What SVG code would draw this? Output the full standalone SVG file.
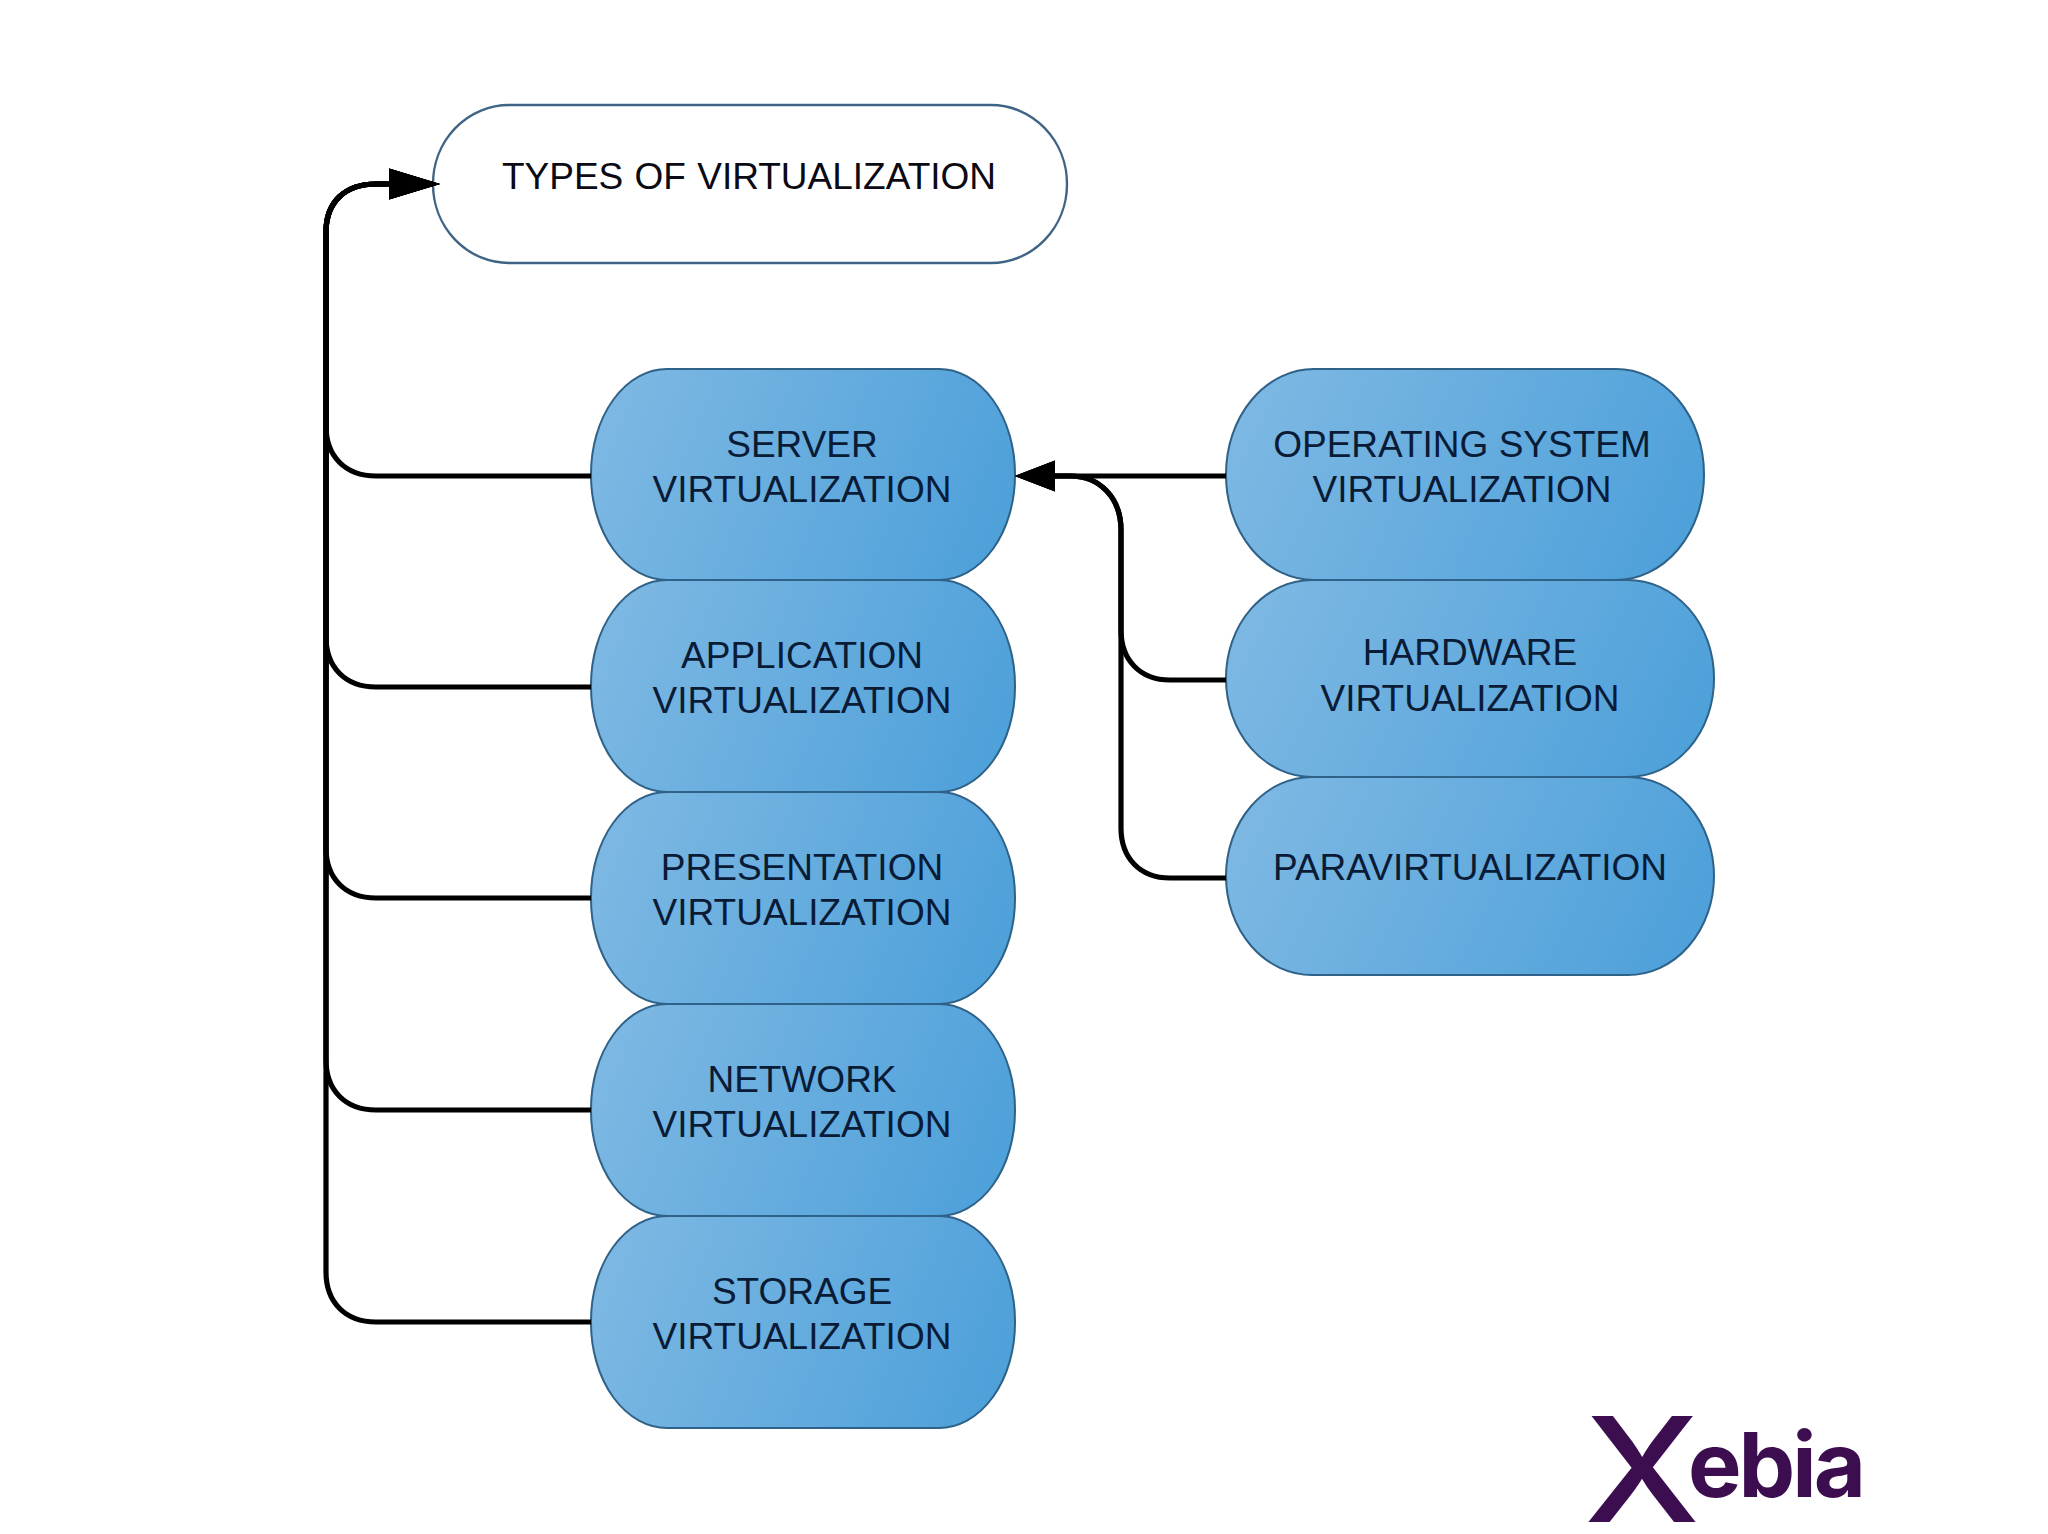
<svg xmlns="http://www.w3.org/2000/svg" width="2048" height="1534" viewBox="0 0 2048 1534">
<style>
.conn{fill:none;stroke:#000;stroke-width:5.2}
.blue{fill:url(#g);stroke:#2f6288;stroke-width:2}
.title{fill:#fff;stroke:#3f6485;stroke-width:2.4}
text{font-family:"Liberation Sans",Arial,sans-serif;font-size:37px;fill:#0a1b36;text-anchor:middle}
</style>
<defs>
<linearGradient id="g" x1="0" y1="0.35" x2="1" y2="0.55"><stop offset="0" stop-color="#7db8e3"/><stop offset="1" stop-color="#4fa1da"/></linearGradient>
<marker id="a1" markerUnits="userSpaceOnUse" markerWidth="52" markerHeight="32" refX="6" refY="16" orient="auto"><path d="M0,0.5 L51,16 L0,31.5z" fill="#000"/></marker>
<marker id="a2" markerUnits="userSpaceOnUse" markerWidth="42" markerHeight="32" refX="6" refY="16" orient="auto"><path d="M0,0.5 L40,16 L0,31.5z" fill="#000"/></marker>
</defs>
<rect width="2048" height="1534" fill="#fff"/>
<g id="types"><rect class="title" x="433" y="105" width="634" height="158" rx="76" ry="79"/><text x="749" y="189" word-spacing="1" style="fill:#0a0a14">TYPES OF VIRTUALIZATION</text></g>
<g id="server"><rect class="blue" x="591" y="369" width="424" height="211" rx="76" ry="105"/><text x="802" y="457">SERVER</text><text x="802" y="502">VIRTUALIZATION</text></g>
<g id="application"><rect class="blue" x="591" y="580" width="424" height="212" rx="76" ry="105"/><text x="802" y="668">APPLICATION</text><text x="802" y="713">VIRTUALIZATION</text></g>
<g id="presentation"><rect class="blue" x="591" y="792" width="424" height="212" rx="76" ry="105"/><text x="802" y="880">PRESENTATION</text><text x="802" y="925">VIRTUALIZATION</text></g>
<g id="network"><rect class="blue" x="591" y="1004" width="424" height="212" rx="76" ry="105"/><text x="802" y="1092">NETWORK</text><text x="802" y="1137">VIRTUALIZATION</text></g>
<g id="storage"><rect class="blue" x="591" y="1216" width="424" height="212" rx="76" ry="105"/><text x="802" y="1304">STORAGE</text><text x="802" y="1349">VIRTUALIZATION</text></g>
<g id="os"><rect class="blue" x="1226" y="369" width="478" height="211" rx="88" ry="105"/><text x="1462" y="457">OPERATING SYSTEM</text><text x="1462" y="502">VIRTUALIZATION</text></g>
<g id="hardware"><rect class="blue" x="1226" y="580" width="488" height="197" rx="86" ry="98"/><text x="1470" y="665">HARDWARE</text><text x="1470" y="711">VIRTUALIZATION</text></g>
<g id="para"><rect class="blue" x="1226" y="777" width="488" height="198" rx="86" ry="99"/><text x="1470" y="880">PARAVIRTUALIZATION</text></g>
<g id="connectors">
<path class="conn" marker-end="url(#a1)" d="M591,476H376C345,476 326,456 326,426V232C326,202 345,184 376,184H395"/>
<path class="conn" marker-end="url(#a1)" d="M591,687H376C345,687 326,667 326,637V232C326,202 345,184 376,184H395"/>
<path class="conn" marker-end="url(#a1)" d="M591,898H376C345,898 326,878 326,848V232C326,202 345,184 376,184H395"/>
<path class="conn" marker-end="url(#a1)" d="M591,1110H376C345,1110 326,1090 326,1060V232C326,202 345,184 376,184H395"/>
<path class="conn" marker-end="url(#a1)" d="M591,1322H376C345,1322 326,1302 326,1272V232C326,202 345,184 376,184H395"/>
<path class="conn" marker-end="url(#a2)" d="M1226,476H1049"/>
<path class="conn" marker-end="url(#a2)" d="M1226,680H1170C1140,680 1121,660 1121,630V530C1121,498 1100,476 1070,476H1049"/>
<path class="conn" marker-end="url(#a2)" d="M1226,878H1170C1140,878 1121,858 1121,828V530C1121,498 1100,476 1070,476H1049"/>
</g>
<g id="logo"><text style="font-family:Inter,'Liberation Sans',sans-serif;fill:#3c0e50;text-anchor:start"><tspan x="1584" y="1522" font-size="146" font-weight="500" textLength="116" lengthAdjust="spacingAndGlyphs">X</tspan><tspan x="1688" y="1497" font-size="90" font-weight="700" textLength="178" lengthAdjust="spacing">ebia</tspan></text></g>
</svg>
